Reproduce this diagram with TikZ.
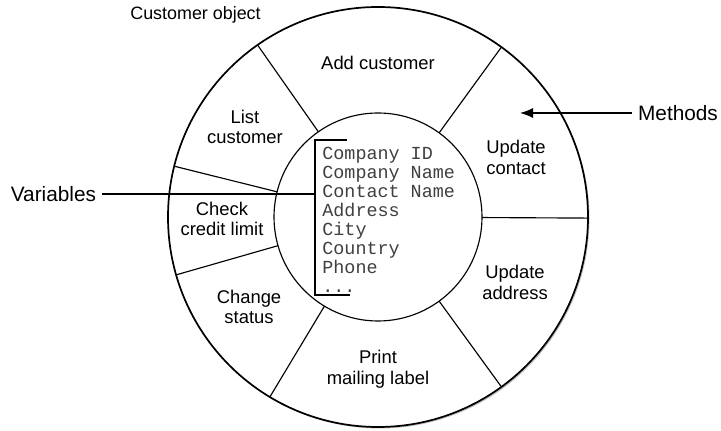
\documentclass[tikz,border=0pt]{standalone}
\usepackage{fontspec}
\setmainfont{Liberation Sans}
\setmonofont{Liberation Mono}
\usetikzlibrary{arrows.meta}

\begin{document}
\begin{tikzpicture}[x=0.5pt, y=0.5pt,
	method/.style={align=center, inner sep=0pt, font=\fontsize{9.2}{10.3}\selectfont},
	field/.style={anchor=base west, inner sep=0pt, text=black!75, font=\fontsize{9.2}{9.5}\selectfont\ttfamily},
	callout/.style={inner sep=3pt, font=\fontsize{10.4}{12}\selectfont}]
		%%%%% START %%%%%
		\useasboundingbox (-378, -214) rectangle (343, 217);
		
		\fill[black!25] (1.5, -1.5) circle (210);
		\draw[line width=0.3mm, fill=white] (0, 0) circle (210);
		\draw[line width=0.2mm] (0, 0) circle (104);
		
		\foreach \a in {125, 54, -0.3, -54, -121, 196, 166}
			\draw[line width=0.2mm] (\a:104) -- (\a:210);
		
		\node[method] (add) at (0, 154) {Add customer};
		\node[method] (list) at (-133, 90) {List\\customer};
		\node[method] (contact) at (138, 59.5) {Update\\contact};
		\node[method] (credit) at (-156, -2) {Check\\credit limit};
		\node[method] (address) at (137, -65.5) {Update\\address};
		\node[method] (status) at (-129, -90) {Change\\status};
		\node[method] (mailing) at (0, -152.5) {Print\\mailing label};
		
		\node[method, font=\fontsize{8.95}{10}\selectfont] (object) at (-182.5, 202) {Customer object};
		
		% variables
		\foreach \f [count=\i from 0] in {Company ID, Company Name, Contact Name, Address, City, Country, Phone}
			\node[field] (f\i) at (-56, 57-18.9*\i) {\f};
		\node[field] (more) at (-56, 57-18.9*7) {.{}.{}.};
		\draw[line width=0.2mm] (-31, 77) -- (-63, 77) -- (-63, -78) -- (-28, -78);
		
		\node[callout] (vars) at (-324.5, 23) {Variables};
		\coordinate (varsend) at (-63, 23);
		\draw[line width=0.2mm] (vars) -- (varsend);
		
		\node[callout] (meth) at (300, 104) {Methods};
		\coordinate (methtip) at (142, 104);
		\draw[line width=0.2mm, -{Latex[length=6.5pt, width=5pt]}] (meth) -- (methtip);
		
		%%%%% END %%%%%
	\end{tikzpicture}
\end{document}
